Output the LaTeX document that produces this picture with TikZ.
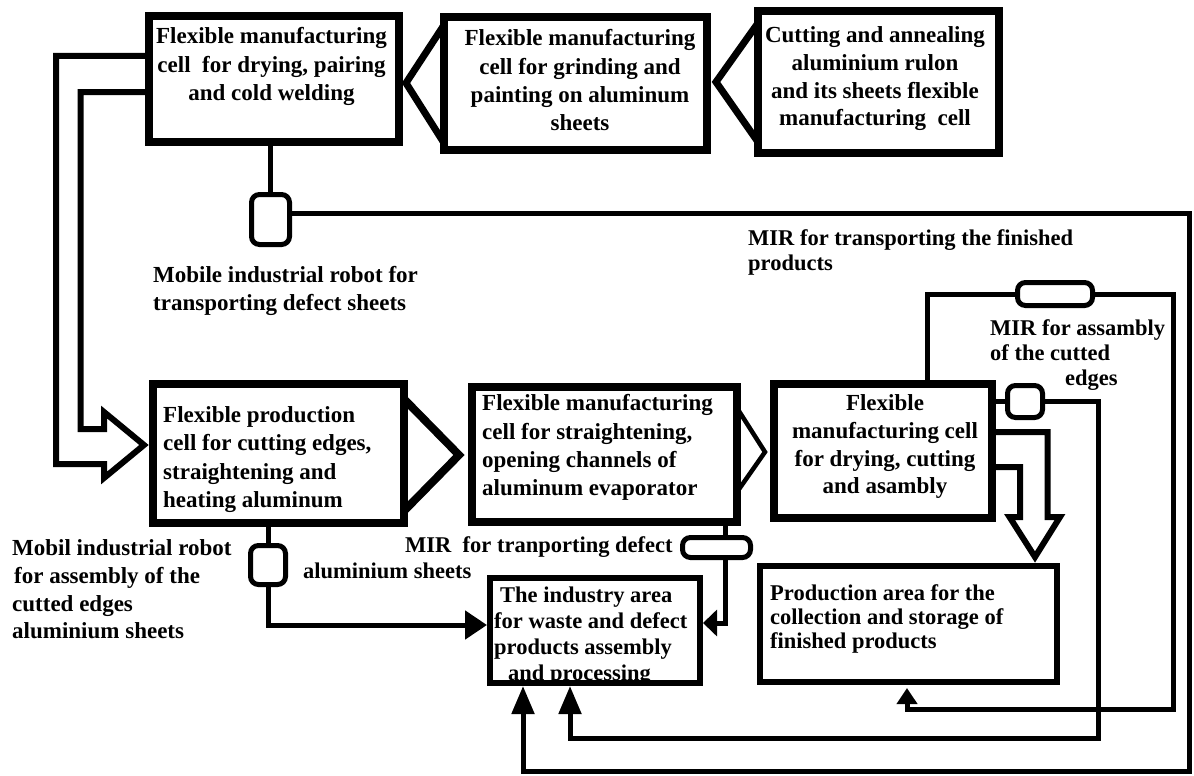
\documentclass[tikz,border=0pt]{standalone}
\usepackage{fontspec}
\setmainfont{Liberation Serif}
\usetikzlibrary{arrows.meta}
\begin{document}
\begin{tikzpicture}[x=1pt,y=-1pt,
  box/.style={draw, inner sep=0pt},
  robot/.style={draw, line width=5pt, rounded corners=8pt, inner sep=0pt},
  conn/.style={line width=5pt},
  hollow/.style={line width=6pt, line join=miter},
  chev/.style={line width=7pt, line join=miter},
  lab/.style={inner sep=0pt, font=\bfseries\fontsize{23}{28.3}\selectfont},
  labs/.style={inner sep=0pt, font=\bfseries\fontsize{22.5}{25}\selectfont},
  tribig/.style={-{Triangle[length=28pt,width=22pt]}},
  trileft/.style={-{Triangle[length=22pt,width=28pt]}},
  triright/.style={-{Triangle[length=14pt,width=26pt]}},
  trismall/.style={-{Triangle[length=16pt,width=20pt]}}
]
\fill[white] (0,0) rectangle (1194,776);
\useasboundingbox (0,0) rectangle (1194,776);

% ---------- boxes ----------
\node[box, line width=7.5pt, minimum width=250pt, minimum height=126pt] (A) at (274,79) {};
\node[box, line width=8.5pt, minimum width=263pt, minimum height=133pt] (B) at (575.5,83.5) {};
\node[box, line width=8.5pt, minimum width=241pt, minimum height=142pt] (C) at (878.5,82) {};
\node[box, line width=7.5pt, minimum width=251pt, minimum height=139pt] (D) at (278.5,453.5) {};
\node[box, line width=8pt, minimum width=265pt, minimum height=135pt] (E) at (604.5,454.5) {};
\node[box, line width=7.5pt, minimum width=218pt, minimum height=134pt] (G) at (883,451) {};
\node[box, line width=6pt, minimum width=210pt, minimum height=105pt] (F) at (595,630.5) {};
\node[box, line width=5.5pt, minimum width=297pt, minimum height=116pt] (H) at (908.5,624) {};

% ---------- robots ----------
\node[robot, minimum width=38pt, minimum height=50pt] (R1) at (270.5,219.5) {};
\node[robot, minimum width=35pt, minimum height=39pt] (R2) at (268,565) {};
\node[robot, minimum width=68pt, minimum height=20pt] (R3) at (716.5,547.5) {};
\node[robot, minimum width=75pt, minimum height=23pt] (R4) at (1055,294) {};
\node[robot, minimum width=35pt, minimum height=32pt] (R5) at (1025,401.5) {};

% ---------- texts ----------
\node[lab, align=center, anchor=north] (tA) at (271.5,27.5)
  {Flexible manufacturing\\cell\ \ for drying, pairing\\and cold welding};
\node[lab, align=center, anchor=north] (tB) at (580,29.5)
  {Flexible manufacturing\\cell for grinding and\\painting on aluminum\\sheets};
\node[lab, align=center, anchor=north, font=\bfseries\fontsize{23}{27.7}\selectfont] (tC) at (875,26.5)
  {Cutting and annealing\\aluminium rulon\\and its sheets flexible\\manufacturing\ \ cell};
\node[lab, align=left, anchor=north west] (tD) at (163,406.5)
  {Flexible production\\cell for cutting edges,\\straightening and\\heating aluminum};
\node[lab, align=left, anchor=north west] (tE) at (482,394.5)
  {Flexible manufacturing\\cell for straightening,\\opening channels of\\aluminum evaporator};
\node[lab, align=center, anchor=north, font=\bfseries\fontsize{23}{27.7}\selectfont] (tG) at (885,394.5)
  {Flexible\\manufacturing cell\\for drying, cutting\\and asambly};
\node[labs, align=left, anchor=north west, font=\bfseries\fontsize{22.5}{26}\selectfont] (tF) at (494,586.5)
  {\hspace*{6pt}The industry area\\for waste and defect\\products assembly\\\hspace*{14pt}and processing};
\node[labs, align=left, anchor=north west, font=\bfseries\fontsize{22.5}{24}\selectfont] (tH) at (770,584.5)
  {Production area for the\\collection and storage of\\finished products};
\node[lab, align=left, anchor=north west, font=\bfseries\fontsize{23}{28}\selectfont] (tR1) at (153,266.5)
  {Mobile industrial robot for\\transporting defect sheets};
\node[lab, align=left, anchor=north west, font=\bfseries\fontsize{23}{27.7}\selectfont] (tR2) at (12,539.5)
  {Mobil industrial robot\\\hspace*{2pt}for assembly of the\\cutted edges\\aluminium sheets};
\node[labs, anchor=north west] (tR3a) at (405,536.5) {MIR\ \ for tranporting defect};
\node[labs, anchor=north west] (tR3b) at (303,562.5) {aluminium sheets};
\node[labs, align=left, anchor=north west] (tR4) at (990,319.5)
  {MIR for assambly\\of the cutted\\\hspace*{75pt}edges};
\node[labs, align=left, anchor=north west] (tR5) at (748,229.5)
  {MIR for transporting the finished\\products};

% ---------- chevrons between cells ----------
\coordinate (ab1) at (444,25);  \coordinate (abt) at (406,83);  \coordinate (ab2) at (444,143);
\draw[chev] (ab1) -- (abt) -- (ab2);
\coordinate (bc1) at (758,23);  \coordinate (bct) at (716,82);  \coordinate (bc2) at (758,142);
\draw[chev] (bc1) -- (bct) -- (bc2);
\coordinate (de1) at (404,399); \coordinate (det) at (459,455); \coordinate (de2) at (404,511);
\draw[chev, line width=8pt] (de1) -- (det) -- (de2);
\coordinate (eg1) at (737,408); \coordinate (egt) at (765,452); \coordinate (eg2) at (737,492);
\draw[chev, line width=4.5pt] (eg1) -- (egt) -- (eg2);

% ---------- hollow arrow A -> D ----------
\coordinate (h1) at (56,56);   \coordinate (h2) at (80.5,92);
\draw[hollow] (A.west |- h1) -- (h1) -- (56,464) -- (104,464) -- (104,478)
  -- (144,445) -- (104,412) -- (104,429) -- (80.5,429) -- (h2) -- (A.west |- h2);

% ---------- hollow arrow G -> H ----------
\coordinate (k1) at (1047.5,432); \coordinate (k2) at (1020,467);
\draw[hollow] (G.east |- k1) -- (k1) -- (1047.5,517) -- (1060,517) -- (1035,557)
  -- (1009.5,517) -- (1020,517) -- (k2) -- (G.east |- k2);

% ---------- robot 1 and the outer frame ----------
\draw[conn] (R1.north) -- (R1.north |- A.south);
\coordinate (fr1) at (1189,213); \coordinate (fr2) at (1189,771); \coordinate (fr3) at (523,771);
\draw[conn, tribig] (R1.east |- fr1) -- (fr1) -- (fr2) -- (fr3) -- (fr3 |- F.south);

% ---------- robot 2 ----------
\draw[conn] (R2.north) -- (R2.north |- D.south);
\coordinate (r2a) at (268,625);
\draw[conn, trileft] (R2.south) -- (r2a) -- (r2a -| F.west);

% ---------- robot 3 ----------
\coordinate (r3a) at (725,623);
\draw[conn] (r3a |- E.south) -- (r3a |- R3.north);
\draw[conn, triright] (r3a |- R3.south) -- (r3a) -- (r3a -| F.east);

% ---------- robot 4 ----------
\coordinate (r4a) at (927,294); \coordinate (r4b) at (1173,294);
\coordinate (r4c) at (1173,709); \coordinate (r4d) at (907,709); \coordinate (r4e) at (907,688);
\draw[conn] (r4a |- G.north) -- (r4a) -- (R4.west);
\draw[conn, trismall] (R4.east) -- (r4b) -- (r4c) -- (r4d) -- (r4e);

% ---------- robot 5 ----------
\coordinate (r5a) at (1098,402); \coordinate (r5b) at (1098,738); \coordinate (r5c) at (570,738);
\draw[conn] (R5.west) -- (R5.west -| G.east);
\draw[conn, tribig] (R5.east) -- (R5.east -| r5a) -- (r5b) -- (r5c) -- (r5c |- F.south);
\end{tikzpicture}
\end{document}
